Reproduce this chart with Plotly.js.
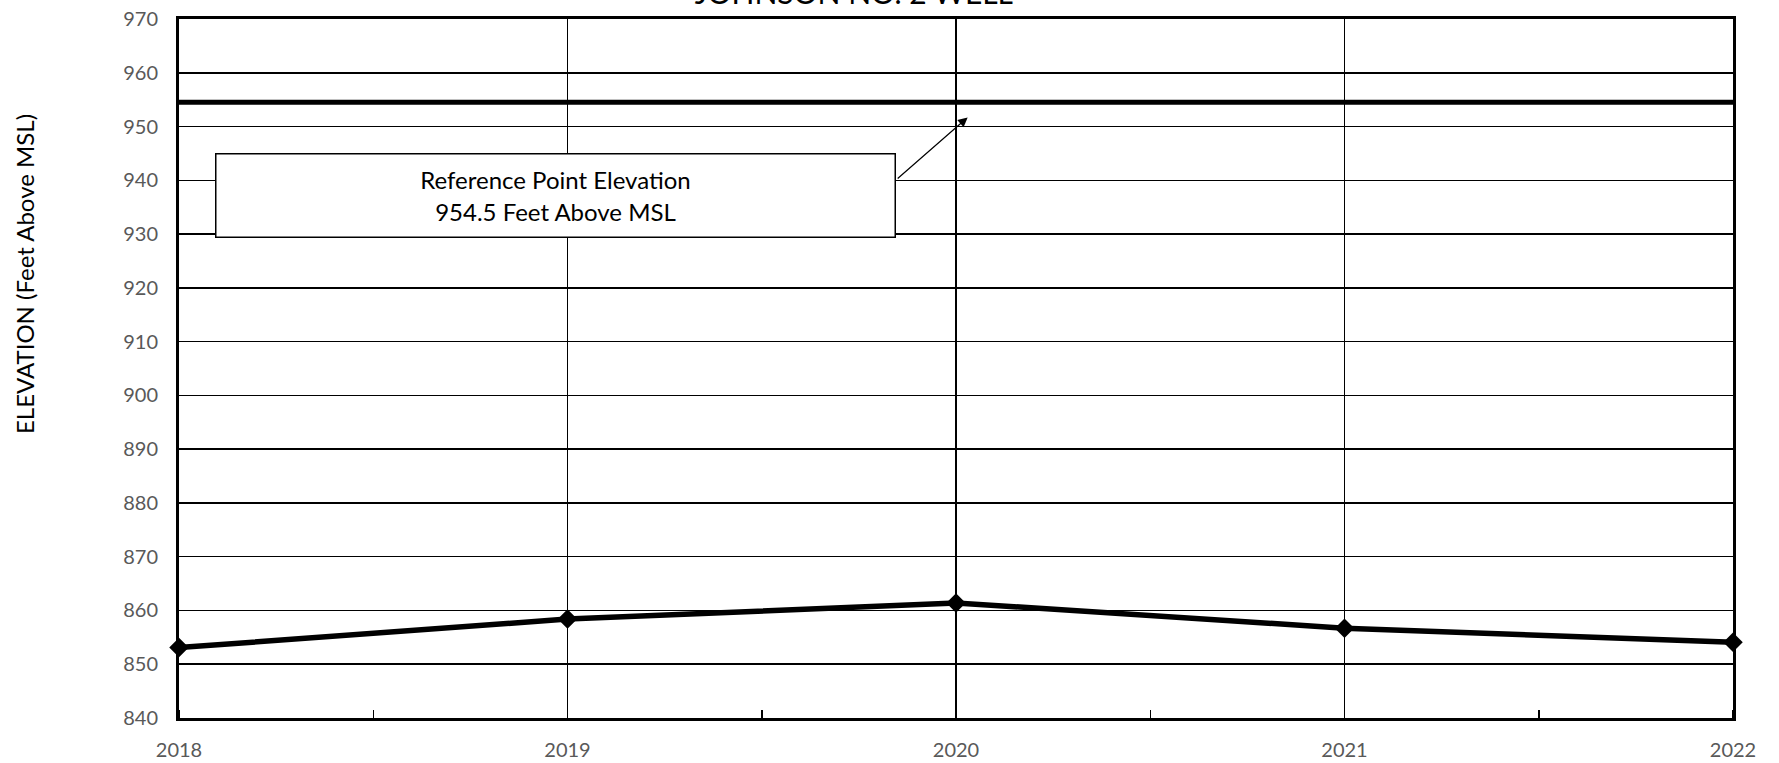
<!DOCTYPE html>
<html>
<head>
<meta charset="utf-8">
<script src="https://cdn.plot.ly/plotly-3.0.1.min.js"></script>
<style>html,body{margin:0;padding:0;background:#fff;}#chart{width:1779px;height:763px;}</style>
</head>
<body>
<div id="chart"></div>
<script>
const years = [2018, 2019, 2020, 2021, 2022];
const elevation = [853.1, 858.4, 861.4, 856.7, 854.1];
const refYears = [2018, 2022];
const refElevation = [954.5, 954.5];
const yTicks = [840, 850, 860, 870, 880, 890, 900, 910, 920, 930, 940, 950, 960, 970];
const xTicks = [2018, 2019, 2020, 2021, 2022];
const chartTitle = 'JOHNSON NO. 2 WELL';
const yTitle = 'ELEVATION (Feet Above MSL)';
const noteText = 'Reference Point Elevation<br>954.5 Feet Above MSL';

const FONT = 'Lato, "Open Sans", sans-serif';

const traces = [
  {
    x: refYears, y: refElevation, mode: 'lines', type: 'scatter',
    line: {color: '#000', width: 5}, hoverinfo: 'skip', showlegend: false, cliponaxis: false
  },
  {
    x: years, y: elevation, mode: 'lines+markers', type: 'scatter',
    line: {color: '#000', width: 5.5},
    marker: {symbol: 'diamond', size: 15, color: '#000'},
    showlegend: false, cliponaxis: false
  }
];

const layout = {
  width: 1779, height: 763,
  margin: {l: 179, r: 46, t: 19, b: 45},
  paper_bgcolor: '#fff', plot_bgcolor: '#fff',
  font: {family: FONT, color: '#595959', size: 20},
  title: {
    text: chartTitle, x: 0.48, xanchor: 'center', y: 0.995, yanchor: 'bottom',
    yref: 'container', font: {family: FONT, size: 30, color: '#000'}
  },
  xaxis: {
    range: [2018, 2022], tickvals: xTicks, ticktext: xTicks.map(String),
    showgrid: true, gridcolor: '#000', gridwidth: 1.5,
    showline: true, linecolor: '#000', linewidth: 3, mirror: true,
    ticks: 'outside', ticklen: 12, tickcolor: 'rgba(0,0,0,0)', zeroline: false,
    tickfont: {family: FONT, size: 20, color: '#595959'},
    minor: {dtick: 0.5, tick0: 2018, ticks: 'inside', ticklen: 8, tickcolor: '#000', tickwidth: 1.5, showgrid: false}
  },
  yaxis: {
    range: [840, 970], tickvals: yTicks,
    showgrid: true, gridcolor: '#000', gridwidth: 1.5,
    showline: true, linecolor: '#000', linewidth: 3, mirror: true,
    ticks: 'outside', ticklen: 14, tickcolor: 'rgba(0,0,0,0)', zeroline: false,
    tickfont: {family: FONT, size: 20, color: '#595959'}
  },
  annotations: [
    {
      x: -0.0993, y: 0.6347, xref: 'paper', yref: 'paper',
      text: yTitle, showarrow: false, textangle: -90,
      xanchor: 'center', yanchor: 'middle',
      font: {family: FONT, size: 24, color: '#000'}
    },
    {
      x: 2020.03, y: 951.7, xref: 'x', yref: 'y',
      ax: 2019.846, ay: 940.1, axref: 'x', ayref: 'y',
      text: '', showarrow: true, arrowhead: 2, arrowsize: 1.6, arrowwidth: 1.2, arrowcolor: '#000'
    },
    {
      x: 2018.97, y: 937.2, xref: 'x', yref: 'y',
      text: noteText, showarrow: false,
      width: 678, height: 82, align: 'center', valign: 'middle',
      bgcolor: '#fff', bordercolor: '#000', borderwidth: 1.5, borderpad: 0,
      font: {family: FONT, size: 24, color: '#000'}
    }
  ]
};

Plotly.newPlot('chart', traces, layout, {displayModeBar: false, staticPlot: true});
</script>
</body>
</html>
